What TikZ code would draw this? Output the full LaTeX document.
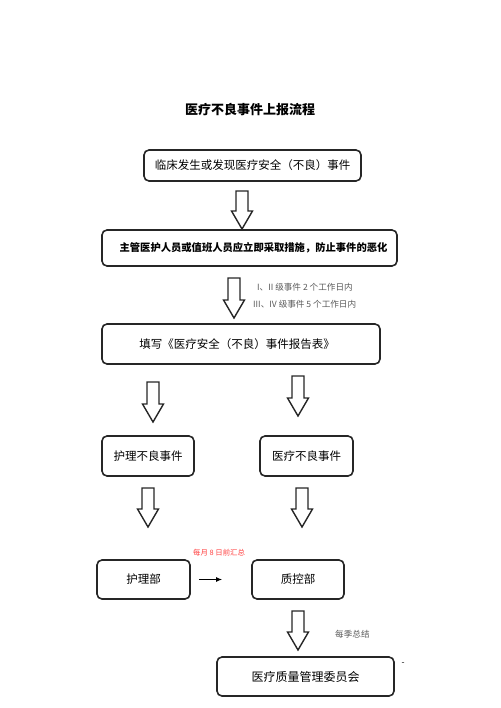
\documentclass[tikz,border=0pt]{standalone}
\usepackage{fontspec}
\setmainfont{Noto Sans CJK SC}
\newfontfamily\cjk{Noto Sans CJK SC}
\usetikzlibrary{arrows.meta}
\tikzset{
  box/.style={draw=black!85, line width=1.6pt, rounded corners=5pt, inner sep=0pt, font=\cjk\fontsize{11.5}{13}\selectfont},
  holo/.style={draw=black!85, line width=1.4pt, fill=white, line join=miter},
  note/.style={font=\cjk\fontsize{8.6}{10}\selectfont, text=black!65, inner sep=0pt},
}
\newcommand{\harrow}[3]{% x, ytop, ybot
  \draw[holo] (#1-6,#2) -- (#1+6,#2) -- (#1+6,#3-18) -- (#1+10.5,#3-18) -- (#1,#3) -- (#1-10.5,#3-18) -- (#1-6,#3-18) -- cycle;}
\begin{document}
\begin{tikzpicture}[x=1pt,y=-1pt]
\useasboundingbox (0,0) rectangle (500,708);
\node[font=\cjk\bfseries\fontsize{13}{15}\selectfont] (title) at (250,110) {医疗不良事件上报流程};
\node[box, minimum width=217, minimum height=31] (b1) at (252.5,165.5) {临床发生或发现医疗安全（不良）事件};
\node[box, minimum width=295, minimum height=36, font=\cjk\bfseries\fontsize{10.3}{12}\selectfont] (b2) at (249.5,248) {\hspace*{8pt}主管医护人员或值班人员应立即采取措施，防止事件的恶化};
\node[box, minimum width=278, minimum height=40] (b3) at (241,344) {填写《医疗安全（不良）事件报告表》\hspace*{8pt}};
\node[box, minimum width=92, minimum height=40] (b4) at (148,456) {护理不良事件};
\node[box, minimum width=93, minimum height=40] (b5) at (306.5,456) {医疗不良事件};
\node[box, minimum width=93, minimum height=39] (b6) at (143.5,579.5) {护理部};
\node[box, minimum width=92, minimum height=39] (b7) at (298,579.5) {质控部};
\node[box, minimum width=177, minimum height=39, font=\cjk\fontsize{12}{14}\selectfont] (b8) at (305.5,676.5) {医疗质量管理委员会};
\harrow{242}{191}{229}
\harrow{234}{278}{318}
\harrow{153}{382}{422}
\harrow{298}{376}{416}
\harrow{148}{488}{527}
\harrow{302}{488}{527}
\harrow{298}{611}{650}
\node[note, anchor=west] (n1) at (257,287) {I、II 级事件 2 个工作日内};
\node[note, anchor=west] (n2) at (253,304) {III、IV 级事件 5 个工作日内};
\node[note, anchor=west, text=red!75, font=\cjk\fontsize{7.4}{8}\selectfont] (n3) at (193,553) {每月 8 日前汇总};
\node[note, anchor=west] (n4) at (335,634) {每季总结};
\node[note, text=black] (n5) at (403,664) {-};
\draw[-{Latex[length=6pt,width=5pt]}, line width=1.2pt] ([xshift=8pt]b6.east) -- ([xshift=-29pt]b7.west);
\end{tikzpicture}
\end{document}
